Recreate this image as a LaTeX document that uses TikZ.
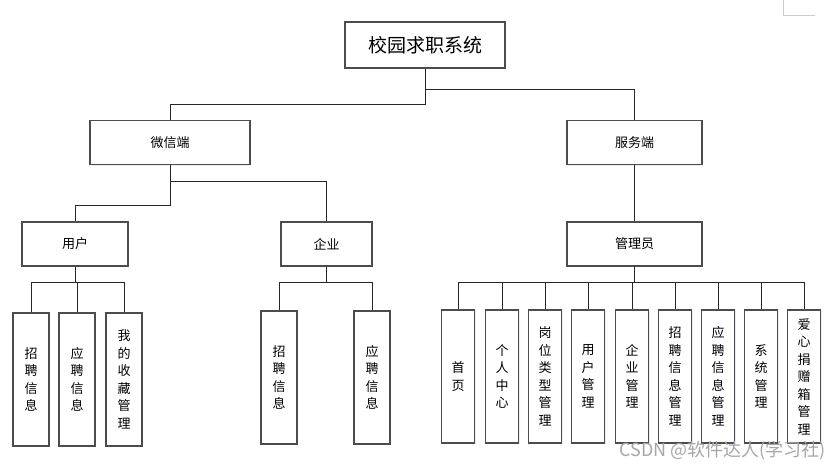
\documentclass[tikz,border=0pt]{standalone}
\usepackage{fontspec}
\setmainfont{Noto Sans CJK SC}
\newfontfamily\cjk{Noto Sans CJK SC}
\usetikzlibrary{shadows}
\tikzset{
  box/.style={draw=black!70, line width=1.1pt, fill=white, inner sep=0pt,
    drop shadow={shadow xshift=1pt, shadow yshift=-1pt, fill=blue!15, opacity=0.5},
    font=\cjk\fontsize{13}{17}\selectfont},
  mid/.style={box, minimum height=44pt},
  leaf/.style={box, minimum height=133pt, align=center,
    font=\cjk\fontsize{13}{17.5}\selectfont},
  conn/.style={draw=black!85, line width=0.8pt},
}
\begin{document}
\begin{tikzpicture}[x=1pt,y=-1pt]
\useasboundingbox (0,0) rectangle (839,469);
% corner mark
\draw[black!20, line width=0.8pt] (783,0) -- (783,15) -- (815,15);
% top
\node[box, minimum width=160pt, minimum height=46pt, font=\cjk\fontsize{19}{22}\selectfont] (top) at (425,45) {校园求职系统};
\node[mid, minimum width=160pt] (wx) at (170,142.5) {微信端};
\node[mid, minimum width=135pt] (fw) at (634.5,142.5) {服务端};
\node[mid, minimum width=106pt] (yh) at (75,244) {用户};
\node[mid, minimum width=91pt] (qy) at (326.5,244) {企业};
\node[mid, minimum width=135pt] (gly) at (634.5,244) {管理员};
% user leaves
\node[leaf, minimum width=36pt] (u1) at (31,379.5) {招\\聘\\信\\息};
\node[leaf, minimum width=36pt] (u2) at (77,379.5) {应\\聘\\信\\息};
\node[leaf, minimum width=36pt] (u3) at (124,379.5) {我\\的\\收\\藏\\管\\理};
% company leaves
\node[leaf, minimum width=36pt] (c1) at (279,377.5) {招\\聘\\信\\息};
\node[leaf, minimum width=36pt] (c2) at (372,377.5) {应\\聘\\信\\息};
% admin leaves
\node[leaf, minimum width=33pt] (a1) at (458,376.5) {首\\页};
\node[leaf, minimum width=33pt] (a2) at (502,376.5) {个\\人\\中\\心};
\node[leaf, minimum width=33pt] (a3) at (545,376.5) {岗\\位\\类\\型\\管\\理};
\node[leaf, minimum width=33pt] (a4) at (588,376.5) {用\\户\\管\\理};
\node[leaf, minimum width=33pt] (a5) at (632,376.5) {企\\业\\管\\理};
\node[leaf, minimum width=33pt] (a6) at (675,376.5) {招\\聘\\信\\息\\管\\理};
\node[leaf, minimum width=33pt] (a7) at (718,376.5) {应\\聘\\信\\息\\管\\理};
\node[leaf, minimum width=33pt] (a8) at (761,376.5) {系\\统\\管\\理};
\node[leaf, minimum width=33pt] (a9) at (804,376.5) {爱\\心\\捐\\赠\\箱\\管\\理};
% connectors
\draw[conn] (top.south) -- ++(0,36) -| (wx.north);
\draw[conn] (top.south) -- ++(0,21) -| (fw.north);
\draw[conn] (wx.south) -- ++(0,40) -| (yh.north);
\draw[conn] (wx.south) -- ++(0,16) -| (qy.north);
\draw[conn] (fw.south) -- (gly.north);
\foreach \n in {u1,u2,u3} \draw[conn] (yh.south) -- ++(0,16) -| (\n.north);
\foreach \n in {c1,c2} \draw[conn] (qy.south) -- ++(0,16) -| (\n.north);
\foreach \n in {a1,a2,a3,a4,a5,a6,a7,a8,a9} \draw[conn] (gly.south) -- ++(0,16) -| (\n.north);
% watermark
\node[anchor=east, text=black!35, inner sep=0pt, font=\cjk\fontsize{18}{20}\selectfont] (wm) at (826,451) {CSDN @软件达人(学习社)};
\end{tikzpicture}
\end{document}
